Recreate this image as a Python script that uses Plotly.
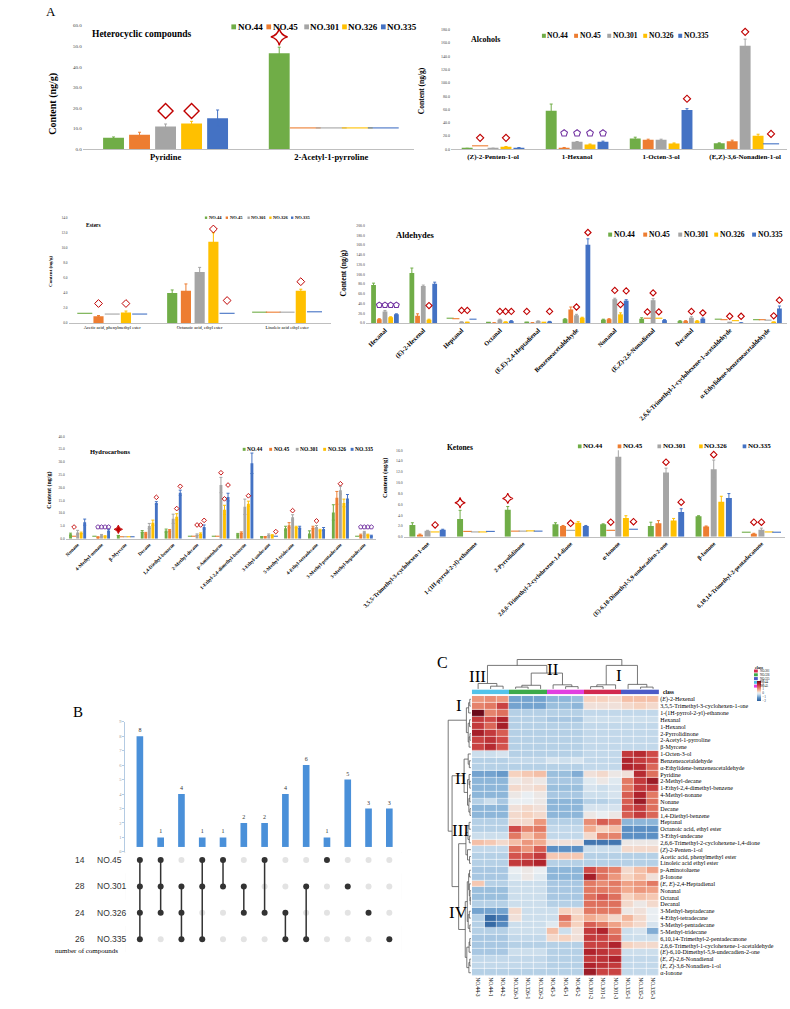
import plotly.graph_objects as go

W, H = 790, 1009
SERIF = "Liberation Serif"
SANS = "Liberation Sans"

SERIES = ["NO.44", "NO.45", "NO.301", "NO.326", "NO.335"]
SERIES_COLORS = ["#70AD47", "#ED7D31", "#A5A5A5", "#FFC000", "#4472C4"]

# ---------------- Panel A data ----------------
het_cats = ["Pyridine", "2-Acetyl-1-pyrroline"]
het_vals = [[5.5, 46.5], [7.0, None], [11.0, None], [12.5, None], [15.0, None]]
het_err = [[0.4, 3.0], [1.2, 0], [1.2, 0], [1.0, 0], [4.0, 0]]
het_nd = [[None, None], [None, 10.3], [None, 10.3], [None, 10.3], [None, 10.3]]
het_marks = [(0, 2, 18.5, "d"), (0, 3, 18.5, "d"), (1, 0, 54.5, "s")]

alc_cats = ["(Z)-2-Penten-1-ol", "1-Hexanol", "1-Octen-3-ol", "(E,Z)-3,6-Nonadien-1-ol"]
alc_vals = [[1.0, 58, 16, 9], [None, 2.0, 14, 12], [1.2, 11, 14, 156],
            [3.5, 7, 8.5, 20], [2.0, 11, 59, None]]
alc_err = [[0.3, 10, 2, 0.5], [0, 0.5, 1, 1.5], [0.3, 0.5, 1, 10],
           [0.5, 0.7, 0.8, 2.5], [0.4, 1, 2, 0]]
alc_nd = [[None] * 4, [5.0, None, None, None], [None] * 4, [None] * 4,
          [None, None, None, 8.0]]
alc_marks = [(0, 1, 17, "d"), (0, 3, 17, "d"), (1, 1, 24, "p"), (1, 2, 24, "p"),
             (1, 3, 24, "p"), (1, 4, 24, "p"), (2, 4, 76, "d"), (3, 2, 177, "d"),
             (3, 4, 23, "d")]

est_cats = ["Acetic acid, phenylmethyl ester", "Octanoic acid, ethyl ester",
            "Linoleic acid ethyl ester"]
est_vals = [[None, 4.0, None], [0.9, 4.3, None], [None, 6.8, None],
            [1.4, 10.8, 4.3], [None, None, None]]
est_err = [[0, 0.4, 0], [0.1, 0.9, 0], [0, 0.6, 0], [0.2, 1.2, 0.2], [0, 0, 0]]
est_nd = [[1.3, None, 1.45], [None, None, 1.45], [1.2, None, 1.45],
          [None, None, None], [1.2, 1.3, 1.5]]
est_marks = [(0, 1, 2.6, "d"), (0, 3, 2.6, "d"), (1, 3, 12.5, "d"),
             (1, 4, 3.0, "d"), (2, 3, 5.5, "d")]

ald_cats = ["Hexanal", "(E)-2-Hexenal", "Heptanal", "Octanal",
            "(E,E)-2,4-Heptadienal", "Benzeneacetaldehyde", "Nonanal",
            "(E,Z)-2,6-Nonadienal", "Decanal",
            "2,6,6-Trimethyl-1-cyclohexene-1-acetaldehyde",
            "α-Ethylidene-benzeneacetaldehyde"]
ald_vals = [[78, 103, None, 1.0, 1.5, 8, 7, 9, 4, None, None],
            [8, 15, None, 0.5, 0.5, 28, 8, None, 4, None, None],
            [24, 76, 2, 7, 4, 16, 49, 47, 11, 1.0, None],
            [12, 7, 1.5, 2, 1, 11, 18, None, 4, None, 2],
            [18, 81, None, 4, 3, 161, 46, 6, 9, 0.5, 30]]
ald_err = [[4, 10, 0, 0, 0, 1, 1, 2, 1, 0, 0],
           [1, 4, 0, 0, 0, 5, 1, 0, 1, 0, 0],
           [2, 2, 0.5, 1, 0.5, 2, 2, 3, 2, 0, 0],
           [1, 1, 0, 0.5, 0, 1, 3, 0, 1, 0, 0],
           [1, 3, 0, 1, 0.5, 12, 2, 1, 1.5, 0, 5]]
ald_nd = [[None, None, 10, None, None, None, None, None, None, 8, 7],
          [None, None, 9, None, None, None, None, 10, None, 7, 7],
          [None, None, None, None, None, None, None, None, None, None, 6],
          [None, None, None, None, None, None, None, 10, None, 5, None],
          [None, None, 8, None, None, None, None, None, None, None, None]]
ald_marks = [(0, 1, 37, "p"), (0, 2, 37, "p"), (0, 3, 37, "p"), (0, 4, 37, "p"),
             (1, 3, 36, "d"), (2, 2, 26, "d"), (2, 3, 26, "d"),
             (3, 2, 24, "d"), (3, 3, 24, "d"), (3, 4, 24, "d"),
             (4, 0, 24, "d"), (4, 4, 24, "d"), (5, 2, 33, "d"), (5, 4, 186, "d"),
             (6, 2, 67, "d"), (6, 3, 38, "d"), (6, 4, 66, "d"),
             (7, 1, 23, "d"), (7, 2, 62, "d"), (7, 3, 23, "d"),
             (8, 2, 24, "d"), (8, 4, 21, "d"), (9, 2, 14, "d"), (9, 4, 14, "d"),
             (10, 3, 15, "d"), (10, 4, 47, "d")]

hyd_cats = ["Nonane", "4-Methyl-nonane", "β-Myrcene", "Decane",
            "1,4-Diethyl-benzene", "2-Methyl-decane", "p-Aminotoluene",
            "1-Ethyl-2,4-dimethyl-benzene", "3-Ethyl-undecane",
            "5-Methyl-tridecane", "4-Ethyl-tetradecane", "3-Methyl-pentadecane",
            "3-Methyl-heptadecane"]
hyd_vals = [[1.8, None, 1.3, 2.8, 3.2, None, None, 1.8, 0.8, 4.1, 2.1, 10.3, None],
            [None, 0.7, None, 2.2, 3.3, None, None, 2.4, 0.8, 5.3, 4.4, 16.0, 1.5],
            [2.5, 1.4, None, 5.0, 7.8, 1.6, 21.0, 12.5, 1.6, 8.4, 4.6, 19.0, 2.6],
            [2.3, 1.0, None, 6.3, 8.6, 2.0, 11.3, 13.7, 1.4, 4.6, 3.4, 14.0, 1.6],
            [6.5, 3.2, None, 14.0, 18.0, 4.6, 16.3, 29.5, None, 4.4, 3.8, 15.7, 1.2]]
hyd_err = [[0.4, 0, 0, 0.4, 0.6, 0, 0, 0.3, 0.1, 0.8, 1.0, 3.0, 0],
           [0, 0.1, 0, 0.3, 0.3, 0, 0, 0.3, 0.1, 1.0, 0.5, 2.5, 0.3],
           [0.8, 0.3, 0, 1.0, 1.8, 0.3, 3.0, 3.0, 0.3, 1.0, 0.6, 1.5, 0.3],
           [0.3, 0.2, 0, 1.0, 1.2, 0.3, 1.8, 1.0, 0.2, 0.3, 0.3, 1.5, 0.2],
           [1.2, 0.5, 0, 0.5, 1.0, 0.8, 1.5, 4.0, 0, 0.5, 0.6, 1.6, 0.2]]
hyd_nd = [[None, 1.0, None, None, None, 1.0, 1.0, None, None, None, None, None, 1.0],
          [1.0, None, 0.8, None, None, 1.0, 1.0, None, None, None, None, None, None],
          [None, None, 0.8, None, None, None, None, None, None, None, None, None, None],
          [None, None, 0.8, None, None, None, None, None, None, None, None, None, None],
          [None, None, 0.8, None, None, None, None, None, 1.0, None, None, None, None]]
hyd_marks = [(0, 1, 4.6, "d"), (1, 1, 4.6, "p"), (1, 2, 4.6, "p"), (1, 3, 4.6, "p"),
             (1, 4, 4.6, "p"), (2, 0, 3.7, "S"), (3, 4, 16.2, "d"), (4, 3, 11.8, "d"),
             (4, 4, 20.5, "d"), (5, 2, 5.4, "d"), (5, 3, 5.4, "d"), (5, 4, 7.2, "d"),
             (6, 2, 25.8, "d"), (6, 3, 15.6, "d"), (6, 4, 21.0, "d"), (7, 3, 16.8, "d"),
             (8, 4, 2.8, "d"), (9, 2, 11.0, "d"), (10, 2, 7.0, "d"), (11, 2, 21.5, "d"),
             (12, 1, 4.6, "p"), (12, 2, 4.6, "p"), (12, 3, 4.6, "p"), (12, 4, 4.6, "p")]

ket_cats = ["3,5,5-Trimethyl-3-cyclohexen-1-one", "1-(1H-pyrrol-2-yl)-ethanone",
            "2-Pyrrolidinone", "2,6,6-Trimethyl-2-cyclohexene-1,4-dione", "α-Ionone",
            "(E)-6,10-Dimethyl-5,9-undecadien-2-one", "β-Ionone",
            "6,10,14-Trimethyl-2-pentadecanone"]
ket_vals = [[2.2, 3.3, 5.0, 2.3, 2.3, 2.0, 3.8, None],
            [0.4, None, None, 2.0, None, 2.5, 1.9, 0.55],
            [1.1, None, None, None, 14.8, 11.9, 12.5, 1.3],
            [None, None, None, 2.6, 3.5, 3.0, 6.5, None],
            [1.3, None, None, 2.0, None, 4.6, 7.2, None]]
ket_err = [[0.4, 1.6, 0.6, 0.3, 0.1, 0.7, 0.1, 0],
           [0.1, 0, 0, 0.1, 0, 0.5, 0.1, 0.1],
           [0.1, 0, 0, 0, 1.5, 0.8, 1.7, 0.3],
           [0, 0, 0, 0.2, 0.4, 0.4, 1.0, 0],
           [0.1, 0, 0, 0.1, 0, 0.6, 0.8, 0]]
ket_nd = [[None, None, None, None, None, None, None, 0.85],
          [None, 1.0, 1.05, None, 1.2, None, None, None],
          [None, 0.9, 1.05, 1.2, None, None, None, None],
          [0.9, 0.9, 1.1, None, None, None, None, 0.9],
          [None, 1.0, 1.05, None, 1.4, None, None, 0.85]]
ket_marks = [(0, 3, 2.2, "d"), (1, 0, 6.3, "s"), (2, 0, 7.1, "s"), (3, 2, 2.5, "d"),
             (4, 1, 2.7, "d"), (4, 2, 17.5, "d"), (4, 4, 2.8, "d"), (5, 2, 13.8, "d"),
             (5, 4, 6.4, "d"), (6, 2, 15.2, "d"), (7, 1, 2.7, "d"), (7, 2, 2.7, "d")]

# ---------------- Panel B data ----------------
up_sets = ["NO.45", "NO.301", "NO.326", "NO.335"]
up_sizes = [14, 28, 24, 26]
up_counts = [8, 1, 4, 1, 1, 2, 2, 4, 6, 1, 5, 3, 3]
up_members = [[0, 1, 2, 3], [0, 1, 2], [1, 2, 3], [0, 1, 3], [0, 1], [1, 2], [0, 2],
              [2, 3], [1, 3], [0], [1], [2], [3]]

# ---------------- Panel C data ----------------
heat_cols = ["NO.44-3", "NO.44-1", "NO.44-2", "NO.326-3", "NO.326-1", "NO.326-2",
             "NO.45-3", "NO.45-1", "NO.45-2", "NO.301-2", "NO.301-1", "NO.301-3",
             "NO.335-1", "NO.335-2", "NO.335-3"]
heat_class = [0, 0, 0, 1, 1, 1, 2, 2, 2, 3, 3, 3, 4, 4, 4]
class_names = ["NO.44", "NO.326", "NO.45", "NO.301", "NO.335"]
class_colors = ["#52C3EA", "#3DAA4A", "#E23FE0", "#D2294F", "#4B5BC8"]
heat_rows = ["(<i>E</i>)-2-Hexenal", "3,5,5-Trimethyl-3-cyclohexen-1-one",
             "1-(1H-pyrrol-2-yl)-ethanone", "Hexanal", "1-Hexanol", "2-Pyrrolidinone",
             "2-Acetyl-1-pyrroline", "β-Myrcene", "1-Octen-3-ol", "Benzeneacetaldehyde",
             "α-Ethylidene-benzeneacetaldehyde", "Pyridine", "2-Methyl-decane",
             "1-Ethyl-2,4-dimethyl-benzene", "4-Methyl-nonane", "Nonane", "Decane",
             "1,4-Diethyl-benzene", "Heptanal", "Octanoic acid, ethyl ester",
             "3-Ethyl-undecane", "2,6,6-Trimethyl-2-cyclohexene-1,4-dione",
             "(<i>Z</i>)-2-Penten-1-ol", "Acetic acid, phenylmethyl ester",
             "Linoleic acid ethyl ester", "p-Aminotoluene", "β-Ionone",
             "(<i>E, E</i>)-2,4-Heptadienal", "Nonanal", "Octanal", "Decanal",
             "3-Methyl-heptadecane", "4-Ethyl-tetradecane", "3-Methyl-pentadecane",
             "5-Methyl-tridecane", "6,10,14-Trimethyl-2-pentadecanone",
             "2,6,6-Trimethyl-1-cyclohexene-1-acetaldehyde",
             "(<i>E</i>)-6,10-Dimethyl-5,9-undecadien-2-one",
             "(<i>E, Z</i>)-2,6-Nonadienal", "(<i>E, Z</i>)-3,6-Nonadien-1-ol", "α-Ionone"]
heat_z = [
    [1.0, 1.1, 1.0, -1.0, -1.0, -1.0, -0.8, -0.8, -0.7, 0.4, 0.4, 0.3, 0.6, 0.6, 0.6],
    [1.2, 1.3, 1.9, -1.0, -1.0, -1.0, -0.7, -0.7, -0.8, 0.2, 0.2, 0.2, 0.3, 0.4, 0.3],
    [3.0, 1.2, 1.4, -0.5, -0.5, -0.5, -0.5, -0.5, -0.5, -0.4, -0.4, -0.4, -0.4, -0.4, -0.4],
    [2.0, 1.8, 2.3, -0.5, -0.5, -0.5, -0.6, -0.6, -0.6, -0.3, -0.3, -0.3, -0.3, -0.3, -0.3],
    [2.0, 1.5, 2.4, -0.5, -0.5, -0.5, -0.5, -0.5, -0.5, -0.4, -0.4, -0.4, -0.4, -0.4, -0.4],
    [2.4, 2.0, 1.6, -0.5, -0.5, -0.5, -0.5, -0.5, -0.5, -0.4, -0.4, -0.4, -0.4, -0.4, -0.4],
    [1.9, 2.1, 1.8, -0.5, -0.5, -0.5, -0.5, -0.5, -0.5, -0.4, -0.4, -0.4, -0.4, -0.4, -0.4],
    [1.9, 2.2, 1.7, -0.5, -0.5, -0.5, -0.5, -0.5, -0.5, -0.4, -0.4, -0.4, -0.4, -0.4, -0.4],
    [-0.3, -0.3, -0.2, -0.5, -0.5, -0.5, -0.5, -0.5, -0.5, -0.4, -0.4, -0.4, 2.0, 2.2, 1.8],
    [-0.5, -0.5, -0.5, -0.4, -0.4, -0.4, -0.2, -0.3, -0.2, -0.4, -0.4, -0.4, 2.3, 2.0, 1.8],
    [-0.5, -0.5, -0.5, -0.5, -0.5, -0.5, -0.5, -0.5, -0.5, -0.4, -0.4, -0.4, 2.3, 2.2, 1.5],
    [-1.0, -1.0, -1.1, 0.4, 0.5, 0.6, -0.7, -0.7, -0.9, 0.2, 0.3, 0.1, 0.2, 2.2, 1.4],
    [-0.8, -0.8, -0.8, 0.1, 0.2, 0.1, -0.6, -0.6, -0.6, -0.1, 0.1, -0.1, 1.3, 2.0, 2.5],
    [-0.8, -0.8, -0.8, 0.3, 0.2, 0.3, -0.7, -0.7, -0.7, -0.2, -0.3, -0.2, 1.3, 2.0, 2.0],
    [-0.8, -0.8, -0.8, 0.1, 0.0, 0.1, -0.6, -0.6, -0.6, -0.3, -0.3, -0.2, 1.6, 2.3, 1.3],
    [-0.5, -0.3, -0.6, 0.0, 0.0, 0.1, -0.8, -0.8, -0.8, -0.5, -0.5, -0.4, 1.6, 2.5, 1.4],
    [-0.8, -0.8, -0.8, 0.2, 0.3, 0.2, -0.8, -0.8, -0.8, -0.2, -0.2, -0.2, 1.7, 2.0, 1.4],
    [-0.8, -0.8, -0.8, 0.3, 0.4, 0.3, -0.8, -0.8, -0.8, 0.1, 0.0, 0.1, 1.6, 2.0, 1.5],
    [-0.5, -0.5, -0.5, 0.3, 0.3, 1.0, -0.5, -0.5, -0.5, 1.1, 1.6, 1.4, -0.8, -0.8, -0.8],
    [-0.5, -0.5, -0.5, 1.8, 1.2, 1.3, -0.4, -0.4, -0.4, 0.8, 0.4, 0.6, -1.2, -1.2, -1.2],
    [-0.3, -0.3, -0.3, 1.3, 0.6, 1.0, -0.4, -0.4, -0.4, 0.3, 1.2, 1.2, -1.2, -1.2, -1.2],
    [0.6, 0.5, 0.3, 0.6, 1.0, 0.8, 0.2, 0.2, 0.2, -1.6, -1.6, -1.6, 0.1, 0.1, 0.1],
    [-0.4, -0.4, -0.4, 1.4, 1.0, 1.6, -1.2, -1.2, -1.2, -0.3, -0.3, -0.3, 0.3, 0.3, 0.3],
    [-0.5, -0.5, -0.5, 1.7, 1.7, 2.0, 0.5, 0.5, 0.5, -0.5, -0.5, -0.5, -0.5, -0.5, -0.5],
    [-0.5, -0.5, -0.5, 2.0, 2.1, 2.3, -0.5, -0.5, -0.5, -0.5, -0.5, -0.5, -0.5, -0.5, -0.5],
    [-0.6, -0.6, -0.6, 0.0, 0.1, 0.0, -0.8, -0.8, -0.8, 1.8, 1.4, 1.2, 0.3, 0.6, 0.9],
    [-0.6, -0.6, -0.6, -0.1, 0.1, -0.1, -0.8, -0.8, -0.8, 2.4, 1.4, 1.0, 0.4, 0.6, 0.2],
    [0.5, -0.5, -0.5, -0.3, -0.3, -0.3, -0.6, -0.6, -0.6, 1.3, 1.1, 1.3, 0.9, 1.0, 1.3],
    [-0.7, -0.7, -0.7, -0.3, -0.3, -0.3, -0.6, -0.6, -0.6, 1.3, 1.3, 1.2, 0.8, 1.0, 0.9],
    [-0.7, -0.7, -0.7, -0.3, -0.3, -0.3, -0.6, -0.6, -0.6, 1.4, 1.7, 1.4, 0.4, 0.6, 0.5],
    [-0.5, -0.5, -0.5, -0.3, -0.3, -0.3, -0.5, -0.5, -0.5, 1.4, 1.4, 1.4, 0.3, 0.1, 0.3],
    [-1.0, -1.0, -1.0, 0.3, -0.3, -0.3, -0.3, 0.4, 0.3, 1.3, 1.3, 1.3, 0.1, 0.2, 0.0],
    [-0.5, -1.8, -1.5, 0.2, -0.3, -0.3, -0.3, 1.4, 0.4, 0.8, 0.6, 0.3, 0.7, 0.3, 0.0],
    [-0.5, -1.8, -1.3, -0.3, -0.3, -0.3, -0.1, 1.0, 0.4, 1.6, 1.3, 0.9, 0.5, 0.3, -0.2],
    [-0.5, -0.5, -0.5, -0.3, -0.3, -0.3, 0.6, -0.3, 0.2, 2.0, 2.3, 1.3, -0.3, -0.2, -0.9],
    [-0.6, -0.6, -0.6, -0.4, -0.4, -0.4, 0.3, 0.4, 0.2, 2.0, 1.9, 1.5, -0.3, -0.3, -0.3],
    [-0.6, -0.6, -0.6, -0.5, -0.5, -0.5, -0.5, -0.5, -0.5, 1.9, 1.9, 2.3, 0.4, 0.3, 0.3],
    [-0.6, -0.6, -0.6, -0.3, -0.3, -0.3, -0.5, -0.5, -0.5, 2.3, 2.1, 1.9, -0.3, -0.3, -0.3],
    [-0.4, -0.4, -0.4, -0.4, -0.4, -0.4, -0.5, -0.5, -0.5, 2.0, 2.1, 2.3, -0.4, -0.4, -0.4],
    [-0.4, -0.4, -0.4, -0.4, -0.4, -0.4, -0.5, -0.5, -0.5, 2.3, 2.1, 2.0, -0.4, -0.4, -0.4],
    [-0.5, -0.5, -0.5, -0.5, -0.5, -0.5, -0.5, -0.5, -0.5, 2.5, 1.9, 1.9, -0.4, -0.4, -0.4],
]
# dendrograms as (height, left, right) with leaf indices
col_tree = (6.5,
            (5.2, (1.2, 0, (0.6, 1, 2)),
             (3.5, (0.8, (0.4, 3, 4), 5), (0.9, 6, (0.5, 7, 8)))),
            (5.2, (0.9, (0.5, 9, 10), 11), (1.0, 12, (0.4, 13, 14))))
row_tree = (10.0,
            (2.0, (1.0, (0.5, 0, 1), 2), (1.2, (0.6, 3, 4), (0.8, (0.4, 5, 6), 7))),
            (8.3,
             (3.0, (1.2, 8, (0.7, 9, 10)),
              (1.5, (0.8, 11, (0.5, 12, 13)), (0.9, (0.5, 14, 15), (0.4, 16, 17)))),
             (5.4,
              (2.2, (1.3, (0.8, 18, 19), (0.7, 20, 21)), (1.5, 22, (0.6, 23, 24))),
              (2.5,
               (1.6, (1.0, (0.6, 25, 26), (0.7, 27, (0.4, 28, (0.3, 29, 30)))),
                (1.2, (0.7, 31, 32), (0.5, 33, 34))),
               (1.8, (0.8, (0.5, 35, 36), 37), (0.9, (0.5, 38, 39), 40))))))

fig = go.Figure()
annotations = []
shapes = []


def new_axes(k, x0, x1, ytop, ybot, xopts, yopts):
    xn = "xaxis" if k == 1 else f"xaxis{k}"
    yn = "yaxis" if k == 1 else f"yaxis{k}"
    xa = "x" if k == 1 else f"x{k}"
    ya = "y" if k == 1 else f"y{k}"
    fig.update_layout(**{xn: dict(domain=[x0 / W, x1 / W], anchor=ya, **xopts),
                         yn: dict(domain=[1 - ybot / H, 1 - ytop / H], anchor=xa, **yopts)})
    return xa, ya


def text(x, y, s, size, family=SERIF, bold=False, anchor="left", angle=0, color="#000"):
    annotations.append(dict(x=x / W, y=1 - y / H, xref="paper", yref="paper",
                            text=f"<b>{s}</b>" if bold else s, showarrow=False,
                            xanchor=anchor, yanchor="middle", textangle=angle,
                            borderpad=0, font=dict(family=family, size=size, color=color)))


def legend_row(starts, y, size, bold=True):
    sq = 0.55 * size
    for i, s in enumerate(SERIES):
        x = starts[i]
        shapes.append(dict(type="rect", xref="paper", yref="paper",
                           x0=x / W, x1=(x + sq) / W,
                           y0=1 - (y + sq / 2) / H, y1=1 - (y - sq / 2) / H,
                           fillcolor=SERIES_COLORS[i], line=dict(width=0)))
        text(x + sq + 0.5, y, s, size, bold=bold)


SYM = {"d": ("diamond-open", "#C00000"), "p": ("pentagon-open", "#7030A0"),
       "s": ("star-diamond-open", "#C00000"), "S": ("star-diamond", "#C00000")}


def bar_panel(k, cats, vals, errs, nds, marks, box, ymax, dtick, step, width,
              cat_size, cat_bold, cat_angle, ytick_size, msize, mline=1.1):
    x0, x1, ytop, ybot = box
    n = len(cats)
    ppu = (x1 - x0) / n
    xopts = dict(range=[-0.5, n - 0.5], tickmode="array", tickvals=list(range(n)),
                 ticktext=[f"<b>{c}</b>" if cat_bold else c for c in cats],
                 tickangle=cat_angle, tickfont=dict(family=SERIF, size=cat_size, color="#000"),
                 showline=True, linecolor="#BFBFBF", linewidth=1, ticks="",
                 showgrid=False, zeroline=False)
    yopts = dict(range=[0, ymax], dtick=dtick, tick0=0, tickformat=".1f",
                 tickfont=dict(family=SERIF, size=ytick_size, color="#404040"),
                 showline=False, ticks="", showgrid=False, zeroline=False)
    xa, ya = new_axes(k, x0, x1, ytop, ybot, xopts, yopts)
    for s in range(5):
        xs = [i + (s - 2) * step for i in range(n)]
        err = [e if e else None for e in errs[s]]
        fig.add_trace(go.Bar(x=xs, y=vals[s], width=width,
                             marker=dict(color=SERIES_COLORS[s], line=dict(width=0)),
                             error_y=dict(type="data", array=err, visible=True,
                                          color=SERIES_COLORS[s], thickness=1, width=1.5),
                             xaxis=xa, yaxis=ya, showlegend=False, hoverinfo="skip",
                             cliponaxis=False))
        ndx = [xs[i] for i in range(n) if nds[s][i] is not None]
        ndy = [nds[s][i] for i in range(n) if nds[s][i] is not None]
        if ndx:
            fig.add_trace(go.Scatter(x=ndx, y=ndy, mode="markers", xaxis=xa, yaxis=ya,
                                     marker=dict(symbol="line-ew", size=width * ppu,
                                                 line=dict(color=SERIES_COLORS[s], width=1.1)),
                                     showlegend=False, hoverinfo="skip", cliponaxis=False))
    for key, (sym, col) in SYM.items():
        pts = [m for m in marks if m[3] == key]
        if not pts:
            continue
        fig.add_trace(go.Scatter(x=[m[0] + (m[1] - 2) * step for m in pts],
                                 y=[m[2] for m in pts], mode="markers", xaxis=xa, yaxis=ya,
                                 marker=dict(symbol=sym, size=msize[key], color=col,
                                             line=dict(color=col, width=mline)),
                                 showlegend=False, hoverinfo="skip", cliponaxis=False))


# ---------- Panel A ----------
bar_panel(1, het_cats, het_vals, het_err, het_nd, het_marks, (43, 393, 22.7, 147), 60, 10,
          0.157, 0.126, 8.5, True, 0, 5, {"d": 11.5, "s": 12}, 1.4)
text(52, 31, "Heterocyclic compounds", 9.5, bold=True)
legend_row([200, 237, 277, 317, 358], 24, 9)
text(12, 101, "Content (ng/g)", 10, bold=True, anchor="center", angle=-90)

bar_panel(2, alc_cats, alc_vals, alc_err, alc_nd, alc_marks, (432, 787, 27, 147), 180, 20,
          0.154, 0.13, 7, True, 0, 4, {"d": 5.5, "p": 7})
text(452, 37, "Alcohols", 8, bold=True)
legend_row([528, 562, 597, 635, 672], 33, 7.5)
text(401, 88, "Content (ng/g)", 7.5, bold=True, anchor="center", angle=-90)

bar_panel(3, est_cats, est_vals, est_err, est_nd, est_marks, (28, 305, 216, 322), 14, 2,
          0.157, 0.116, 4.5, False, 0, 3.5, {"d": 6}, 1.0)
text(45, 223, "Esters", 5.5, bold=True)
legend_row([172, 194, 217, 240, 263], 216, 4.5)
text(9, 270, "Content (ng/g)", 5, bold=True, anchor="center", angle=-90)

bar_panel(4, ald_cats, ald_vals, ald_err, ald_nd, ald_marks, (342, 787, 224, 322), 200, 20,
          0.149, 0.125, 6.5, True, -45, 3.8, {"d": 4.8, "p": 6}, 1.1)
text(373, 233, "Aldehydes", 8.5, bold=True)
legend_row([598, 635, 672, 710, 750], 233, 7.5)
text(318, 272, "Content (ng/g)", 7.5, bold=True, anchor="center", angle=-90)

bar_panel(5, hyd_cats, hyd_vals, hyd_err, hyd_nd, hyd_marks, (25, 353, 436, 539), 40, 5,
          0.148, 0.12, 5, True, -45, 3.5, {"d": 3.6, "p": 4.5, "S": 6}, 0.9)
text(50, 451, "Hydrocarbons", 6.5, bold=True)
legend_row([212, 240, 268, 297, 326], 449, 5.5)
text(8, 490, "Content (ng/g)", 6, bold=True, anchor="center", angle=-90)

bar_panel(6, ket_cats, ket_vals, ket_err, ket_nd, ket_marks, (382, 785, 450, 537), 16, 2,
          0.159, 0.125, 6, True, -45, 3.8, {"d": 5, "s": 7.5}, 1.1)
text(427, 447, "Ketones", 7.5, bold=True)
legend_row([566, 608, 650, 694, 740], 446, 7)
text(362, 478, "Content (ng/g)", 6.5, bold=True, anchor="center", angle=-90)

text(3, 9, "A", 13)

# ---------- Panel B (UpSet) ----------
nc = len(up_counts)
xa7, ya7 = new_axes(7, 88, 380, 723, 854,
                    dict(range=[-0.7, nc - 0.4], showticklabels=False, ticks="",
                         showgrid=False, zeroline=False, showline=True, linecolor="#E6E6E6"),
                    dict(range=[0, 9], dtick=1, showgrid=False, zeroline=False, showline=True,
                         linecolor="#B4CBE3", ticks="outside", ticklen=2, tickcolor="#B4CBE3",
                         tickfont=dict(family=SERIF, size=4.5, color="#999")))
fig.add_trace(go.Bar(x=list(range(nc)), y=up_counts, width=0.32, marker_color="#4A90D9",
                     marker_line_width=0, text=[str(c) for c in up_counts],
                     textposition="outside", textfont=dict(family=SERIF, size=6, color="#333"),
                     xaxis=xa7, yaxis=ya7, showlegend=False, hoverinfo="skip", cliponaxis=False))
xa8, ya8 = new_axes(8, 88, 380, 849, 955,
                    dict(range=[-0.7, nc - 0.4], visible=False),
                    dict(range=[len(up_sets) - 0.5, -0.5], visible=False))
for r in (1, 3):
    shapes.append(dict(type="rect", xref="paper", yref=ya8, x0=88 / W, x1=380 / W,
                       y0=r - 0.5, y1=r + 0.5, fillcolor="#F2F2F2", line=dict(width=0),
                       layer="below"))
ix, iy = [], []
for c in range(nc):
    for r in range(len(up_sets)):
        if r not in up_members[c]:
            ix.append(c)
            iy.append(r)
fig.add_trace(go.Scatter(x=ix, y=iy, mode="markers", marker=dict(size=6, color="#E3E3E3"),
                         xaxis=xa8, yaxis=ya8, showlegend=False, hoverinfo="skip"))
lx, ly = [], []
for c in range(nc):
    if len(up_members[c]) > 1:
        lx += [c, c, None]
        ly += [min(up_members[c]), max(up_members[c]), None]
fig.add_trace(go.Scatter(x=lx, y=ly, mode="lines", line=dict(color="#333", width=1.5),
                         xaxis=xa8, yaxis=ya8, showlegend=False, hoverinfo="skip"))
ax_, ay_ = [], []
for c in range(nc):
    for r in up_members[c]:
        ax_.append(c)
        ay_.append(r)
fig.add_trace(go.Scatter(x=ax_, y=ay_, mode="markers", marker=dict(size=6, color="#333"),
                         xaxis=xa8, yaxis=ya8, showlegend=False, hoverinfo="skip"))
for r, (name, size) in enumerate(zip(up_sets, up_sizes)):
    annotations.append(dict(x=47 / W, y=r, xref="paper", yref=ya8, text=str(size),
                            showarrow=False, xanchor="right", yanchor="middle",
                            font=dict(family=SANS, size=8.5, color="#333")))
    annotations.append(dict(x=56 / W, y=r, xref="paper", yref=ya8, text=name,
                            showarrow=False, xanchor="left", yanchor="middle",
                            font=dict(family=SANS, size=8.5, color="#333")))
text(13, 954, "number of compounds", 7)
text(32, 713, "B", 15)

# ---------- Panel C (heatmap) ----------
HX0, HX1, HY0, HY1 = 454, 652, 697, 979
nr, ncol = len(heat_rows), len(heat_cols)
xa9, ya9 = new_axes(9, HX0, HX1, HY0, HY1,
                    dict(range=[-0.5, ncol - 0.5], tickmode="array", tickvals=list(range(ncol)),
                         ticktext=heat_cols, tickangle=90, ticks="", showgrid=False,
                         zeroline=False, tickfont=dict(family=SERIF, size=5.5, color="#000")),
                    dict(range=[nr - 0.5, -0.5], tickmode="array", tickvals=list(range(nr)),
                         ticktext=heat_rows, side="right", ticks="", showgrid=False,
                         zeroline=False, tickfont=dict(family=SERIF, size=6, color="#000")))
cscale = [[0.0, "#2A5D9B"], [0.16, "#5B8FC4"], [0.24, "#8DB6D9"], [0.32, "#C2D8EA"],
          [0.4, "#E9EEF2"], [0.48, "#F6D2BF"], [0.56, "#F2AB8F"], [0.66, "#E27963"],
          [0.76, "#CF4A47"], [0.86, "#B0232C"], [1.0, "#6B0A1A"]]
fig.add_trace(go.Heatmap(z=heat_z, x=list(range(ncol)), y=list(range(nr)), colorscale=cscale,
                         zmin=-2, zmax=3, xgap=0.6, ygap=0.6, xaxis=xa9, yaxis=ya9,
                         hoverinfo="skip",
                         colorbar=dict(x=745 / W, xanchor="left", y=1 - 692 / H,
                                       yanchor="middle", len=40 / H, thickness=4,
                                       outlinewidth=0, ticklen=1, tickvals=[-2, -1, 0, 1, 2, 3],
                                       tickfont=dict(family=SERIF, size=3.5))))
xa10, ya10 = new_axes(10, HX0, HX1, 690.5, 695.5,
                      dict(range=[-0.5, ncol - 0.5], visible=False),
                      dict(range=[-0.5, 0.5], visible=False))
nclass = len(class_names)
cls_scale = []
for i, c in enumerate(class_colors):
    cls_scale += [[i / nclass, c], [(i + 1) / nclass, c]]
fig.add_trace(go.Heatmap(z=[heat_class], x=list(range(ncol)), y=[0], colorscale=cls_scale,
                         zmin=-0.5, zmax=nclass - 0.5, showscale=False, xaxis=xa10, yaxis=ya10,
                         hoverinfo="skip"))
text(655, 693, "<b>class</b>", 5.5)

# dendrograms


def tree_lines(node, segs):
    if isinstance(node, int):
        return node, 0.0
    h, a, b = node
    pa, ha = tree_lines(a, segs)
    pb, hb = tree_lines(b, segs)
    segs.append(((pa, ha), (pa, h), (pb, h), (pb, hb)))
    return (pa + pb) / 2, h


csegs = []
tree_lines(col_tree, csegs)
xa11, ya11 = new_axes(11, HX0, HX1, 660, 690,
                      dict(range=[-0.5, ncol - 0.5], visible=False),
                      dict(range=[0, 6.6], visible=False))
dx, dy = [], []
for seg in csegs:
    dx += [p[0] for p in seg] + [None]
    dy += [p[1] for p in seg] + [None]
fig.add_trace(go.Scatter(x=dx, y=dy, mode="lines", line=dict(color="#555", width=0.8),
                         xaxis=xa11, yaxis=ya11, showlegend=False, hoverinfo="skip"))
rsegs = []
tree_lines(row_tree, rsegs)
xa12, ya12 = new_axes(12, 425, 453, HY0, HY1,
                      dict(range=[11.67, 0], visible=False),
                      dict(range=[nr - 0.5, -0.5], visible=False))
rx, ry = [], []
for seg in rsegs:
    rx += [p[1] for p in seg] + [None]
    ry += [p[0] for p in seg] + [None]
fig.add_trace(go.Scatter(x=rx, y=ry, mode="lines", line=dict(color="#555", width=0.8),
                         xaxis=xa12, yaxis=ya12, showlegend=False, hoverinfo="skip"))

text(460, 678, "III", 17, anchor="center")
text(540, 670, "II", 17, anchor="center")
text(609, 677, "I", 17, anchor="center")
text(440, 707, "I", 17, anchor="center")
text(442, 780, "II", 17, anchor="center")
text(442, 832, "III", 17, anchor="center")
text(440, 915, "IV", 17, anchor="center")
text(416, 663, "C", 16)

# class legend
text(752, 668, "<b>class</b>", 4)
legend_order = [3, 1, 4, 0, 2]
for j, ci in enumerate(legend_order):
    yy = 672 + j * 3.8
    shapes.append(dict(type="rect", xref="paper", yref="paper", x0=752 / W, x1=756 / W,
                       y0=1 - (yy + 1.5) / H, y1=1 - (yy - 1.5) / H,
                       fillcolor=class_colors[ci], line=dict(width=0)))
    text(757, yy, class_names[ci], 3)

fig.update_layout(width=W, height=H, margin=dict(l=0, r=0, t=0, b=0),
                  paper_bgcolor="white", plot_bgcolor="white", barmode="overlay",
                  showlegend=False, annotations=annotations, shapes=shapes)
fig.write_html("out.html", config={"displayModeBar": False},
               post_script="document.body.style.margin='0';")
